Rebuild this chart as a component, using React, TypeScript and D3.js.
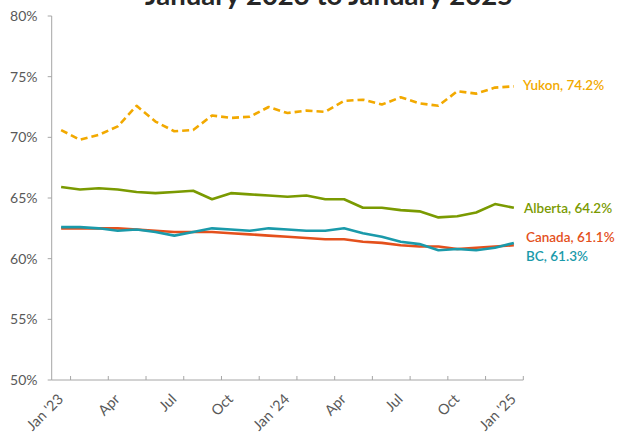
import React from "react";
import * as d3 from "d3";

const months: string[] = [
  "2023-01","2023-02","2023-03","2023-04","2023-05","2023-06","2023-07","2023-08","2023-09","2023-10","2023-11","2023-12",
  "2024-01","2024-02","2024-03","2024-04","2024-05","2024-06","2024-07","2024-08","2024-09","2024-10","2024-11","2024-12",
  "2025-01",
];
const tickLabels: string[] = ["Jan '23","","","Apr","","","Jul","","","Oct","","","Jan '24","","","Apr","","","Jul","","","Oct","","","Jan '25"];

const yukon = [70.6, 69.8, 70.2, 70.9, 72.6, 71.3, 70.5, 70.6, 71.8, 71.6, 71.7, 72.5, 72.0, 72.2, 72.1, 73.0, 73.1, 72.7, 73.3, 72.8, 72.6, 73.8, 73.6, 74.1, 74.2];
const alberta = [65.9, 65.7, 65.8, 65.7, 65.5, 65.4, 65.5, 65.6, 64.9, 65.4, 65.3, 65.2, 65.1, 65.2, 64.9, 64.9, 64.2, 64.2, 64.0, 63.9, 63.4, 63.5, 63.8, 64.5, 64.2];
const canada = [62.5, 62.5, 62.5, 62.5, 62.4, 62.3, 62.2, 62.2, 62.2, 62.1, 62.0, 61.9, 61.8, 61.7, 61.6, 61.6, 61.4, 61.3, 61.1, 61.0, 61.0, 60.8, 60.9, 61.0, 61.1];
const bc = [62.6, 62.6, 62.5, 62.3, 62.4, 62.2, 61.9, 62.2, 62.5, 62.4, 62.3, 62.5, 62.4, 62.3, 62.3, 62.5, 62.1, 61.8, 61.4, 61.2, 60.7, 60.8, 60.7, 60.9, 61.3];

const yTicks = [50, 55, 60, 65, 70, 75, 80];
const title = "January 2023 to January 2025";

const series = [
  { name: "Yukon", values: yukon, color: "#F2A900", dash: "7,4", labelDy: 90, labelDx: 523 },
  { name: "Alberta", values: alberta, color: "#7A9A01", dash: null, labelDy: 213, labelDx: 524 },
  { name: "Canada", values: canada, color: "#E4501C", dash: null, labelDy: 242, labelDx: 526 },
  { name: "BC", values: bc, color: "#1A9AAA", dash: null, labelDy: 260.5, labelDx: 526 },
];

export default function App() {
  const W = 618, H = 432;
  const left = 51.7, right = 523.3, top = 16, bottom = 380;
  const x = d3.scaleBand<string>().domain(months).range([left, right]).paddingInner(0).paddingOuter(0);
  const cx = (i: number) => (x(months[i]) as number) + x.bandwidth() / 2;
  const y = d3.scaleLinear().domain([50, 80]).range([bottom, top]);
  const line = d3.line<number>().x((_, i) => cx(i)).y((v) => y(v));
  const font = "Lato, 'Open Sans', sans-serif";
  const axisColor = "#A6A6A6";
  const textColor = "#595959";

  const xTicks: number[] = [];
  for (let k = 1; k <= months.length; k += 2) xTicks.push(left + k * x.bandwidth());

  return (
    <svg width={W} height={H} style={{ position: "absolute", left: 0, top: 0, background: "#fff" }} fontFamily={font}>
      <text x={329} y={4.5} textAnchor="middle" fontSize={27.5} fontWeight={700} fill="#262626">{title}</text>
      {/* y axis */}
      <line x1={left} x2={left} y1={top} y2={bottom} stroke={axisColor} strokeWidth={1} />
      {yTicks.map((t) => (
        <g key={t}>
          <line x1={left - 4} x2={left} y1={y(t)} y2={y(t)} stroke={axisColor} />
          <text x={37.5} y={y(t)} dy="0.35em" textAnchor="end" fontSize={14} fill={textColor}>{t}%</text>
        </g>
      ))}
      {/* x axis */}
      <line x1={left} x2={right} y1={bottom} y2={bottom} stroke={axisColor} />
      {xTicks.map((t, i) => (
        <line key={i} x1={t} x2={t} y1={bottom} y2={bottom - 4} stroke={axisColor} />
      ))}
      {tickLabels.map((lab, i) =>
        lab ? (
          <text key={i} transform={`translate(${cx(i) + 3},${bottom + 20}) rotate(-45)`} textAnchor="end" fontSize={14.5} fill={textColor}>{lab}</text>
        ) : null
      )}
      {/* lines */}
      {series.map((s) => (
        <path key={s.name} d={line(s.values) as string} fill="none" stroke={s.color} strokeWidth={2.6}
          strokeDasharray={s.dash || undefined} strokeLinejoin="round" />
      ))}
      {series.map((s) => (
        <text key={s.name + "l"} x={s.labelDx} y={s.labelDy} fontSize={13.5} fontWeight={600} fill={s.color}>
          {s.name}, {s.values[s.values.length - 1].toFixed(1)}%
        </text>
      ))}
    </svg>
  );
}
